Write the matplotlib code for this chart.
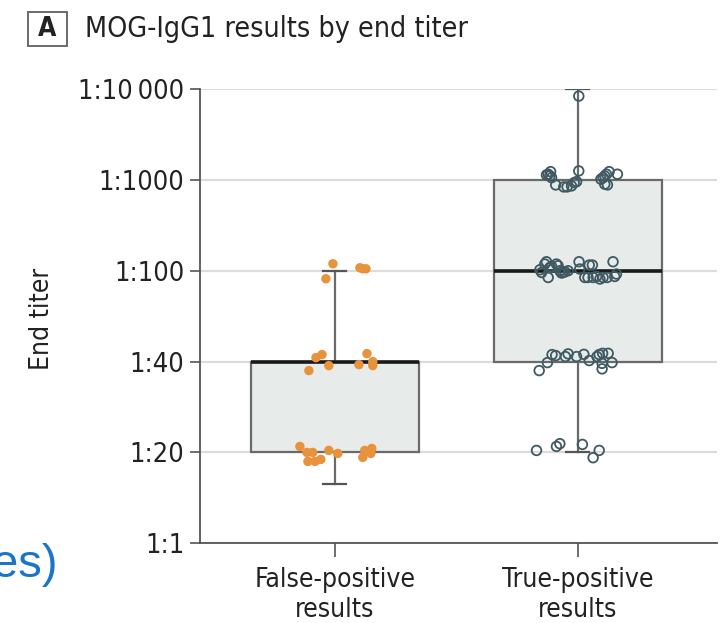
import matplotlib
matplotlib.use("Agg")
import matplotlib.pyplot as plt
from matplotlib.patches import Rectangle
import numpy as np

# titer categories, drawn evenly spaced
titers = ["1:1", "1:20", "1:40", "1:100", "1:1000", "1:10\u2009000"]
groups = ["False-positive\nresults", "True-positive\nresults"]

# false-positive results: titer level of each point + jitter
fp_level = [3] * 5 + [2] * 8 + [1] * 12
fp_dx = [-0.008, -0.037, 0.103, 0.115, 0.128,
         -0.078, -0.053, -0.107, -0.025, 0.099, 0.132, 0.156, 0.156,
         -0.144, -0.115, -0.091, -0.111, -0.082, -0.058, -0.025, 0.012, 0.123, 0.115, 0.152, 0.148]
fp_dy = [0.077, -0.088, 0.033, 0.022, 0.022,
         0.044, 0.077, -0.099, -0.044, -0.033, 0.088, 0.0, -0.044,
         0.066, 0.0, 0.0, -0.099, -0.099, -0.077, 0.022, -0.011, 0.022, -0.055, 0.044, -0.011]

# true-positive results
tp_level = [5] * 1 + [4] * 20 + [3] * 28 + [2] * 16 + [1] * 6
tp_dx = [0.004,
         -0.129, -0.112, -0.115, -0.108, -0.091, -0.058, -0.044, -0.026, -0.015, -0.005,
         0.004, 0.095, 0.104, 0.111, 0.118, 0.129, 0.111, 0.122, 0.163, -0.122,
         -0.156, -0.149, -0.136, -0.129, -0.122, -0.108, -0.088, -0.081, -0.074, -0.067,
         -0.053, -0.040, 0.005, 0.008, 0.029, 0.042, 0.047, 0.060, 0.063, 0.077,
         0.091, 0.104, 0.121, 0.145, 0.152, 0.159, -0.115, -0.060,
         -0.159, -0.125, -0.106, -0.091, -0.051, -0.040, -0.005, 0.025, 0.047, 0.079,
         0.088, 0.102, 0.125, 0.100, 0.100, 0.141,
         -0.170, -0.088, -0.074, 0.019, 0.088, 0.063]
tp_dy = [-0.077,
         0.055, 0.091, 0.044, 0.025, -0.055, -0.077, -0.077, -0.066, -0.030, -0.019,
         0.099, 0.008, 0.025, 0.044, 0.063, 0.091, -0.047, -0.055, 0.063, 0.063,
         0.011, -0.019, 0.074, 0.099, -0.074, 0.047, 0.074, 0.055, 0.0, -0.025,
         -0.011, 0.0, 0.099, 0.019, -0.074, -0.074, 0.063, 0.063, -0.074, -0.063,
         -0.091, -0.074, -0.074, 0.099, -0.063, -0.036, 0.036, -0.019,
         -0.099, -0.011, 0.077, 0.066, 0.055, 0.085, 0.055, 0.080, 0.011, 0.055,
         0.077, 0.091, 0.091, -0.019, -0.080, -0.011,
         0.022, 0.066, 0.096, 0.088, 0.022, -0.058]

# box summaries (in titer-level units)
box_q1 = [1, 2]
box_med = [2, 3]
box_q3 = [2, 4]
box_lo = [0.65, 1]
box_hi = [3, 5]

plt.rcParams["font.family"] = ["DejaVu Sans"]
plt.rcParams["font.stretch"] = "condensed"

fig = plt.figure(figsize=(7.24, 6.23), dpi=100)
ax = fig.add_axes([0.276, 0.128, 0.714, 0.729])

for lv in range(len(titers)):
    ax.axhline(lv, color="#dcdcdc", lw=1.6, zorder=0)

stats = []
for i in range(2):
    stats.append(dict(med=box_med[i], q1=box_q1[i], q3=box_q3[i],
                      whislo=box_lo[i], whishi=box_hi[i], fliers=[]))
ax.bxp(stats, positions=[0, 1], widths=0.69, patch_artist=True,
       showfliers=False, capwidths=0.095,
       boxprops=dict(facecolor="#e7ebea", edgecolor="#6a6a6a", linewidth=1.6),
       medianprops=dict(color="#1a1a1a", linewidth=2.6),
       whiskerprops=dict(color="#6a6a6a", linewidth=1.6),
       capprops=dict(color="#555555", linewidth=1.6), zorder=2)

ax.scatter(np.array(fp_dx), np.array(fp_level) + np.array(fp_dy),
           s=46, color="#e8923c", edgecolor="none", zorder=3, clip_on=False)
ax.scatter(1 + np.array(tp_dx), np.array(tp_level) + np.array(tp_dy),
           s=48, facecolor="none", edgecolor="#3f5a63", linewidth=1.3, zorder=3,
           clip_on=False)

ax.set_xlim(-0.556, 1.572)
ax.set_ylim(0, 5)
ax.set_yticks(range(len(titers)))
ax.set_yticklabels(titers, fontsize=19.5, color="#222222")
ax.set_xticks([0, 1])
ax.set_xticklabels(groups, fontsize=19, color="#222222", linespacing=1.2)
ax.tick_params(axis="y", length=7, width=1.2, color="#555555", pad=4)
ax.tick_params(axis="x", length=10, width=1.2, color="#555555", pad=7)
for s in ["top", "right"]:
    ax.spines[s].set_visible(False)
for s in ["left", "bottom"]:
    ax.spines[s].set_color("#555555")
    ax.spines[s].set_linewidth(1.3)
fig.text(0.058, 0.488, "End titer", fontsize=19, rotation=90, ha="center",
         va="center", color="#222222")

# panel letter in a box
fig.patches.append(Rectangle((0.0387, 0.926), 0.054, 0.0546, transform=fig.transFigure,
                             fc="white", ec="#6a6a6a", lw=1.4))
fig.text(0.0656, 0.953, "A", fontsize=19, weight="bold", ha="center", va="center",
         color="#222222")
fig.text(0.117, 0.954, "MOG-IgG1 results by end titer", fontsize=20.5,
         ha="left", va="center", color="#222222")
fig.text(0.079, 0.093, "es)", fontsize=34, ha="right", va="center",
         color="#1a74c9", family=["Liberation Sans", "DejaVu Sans"],
         stretch="normal")

fig.savefig("out.png", dpi=100)
